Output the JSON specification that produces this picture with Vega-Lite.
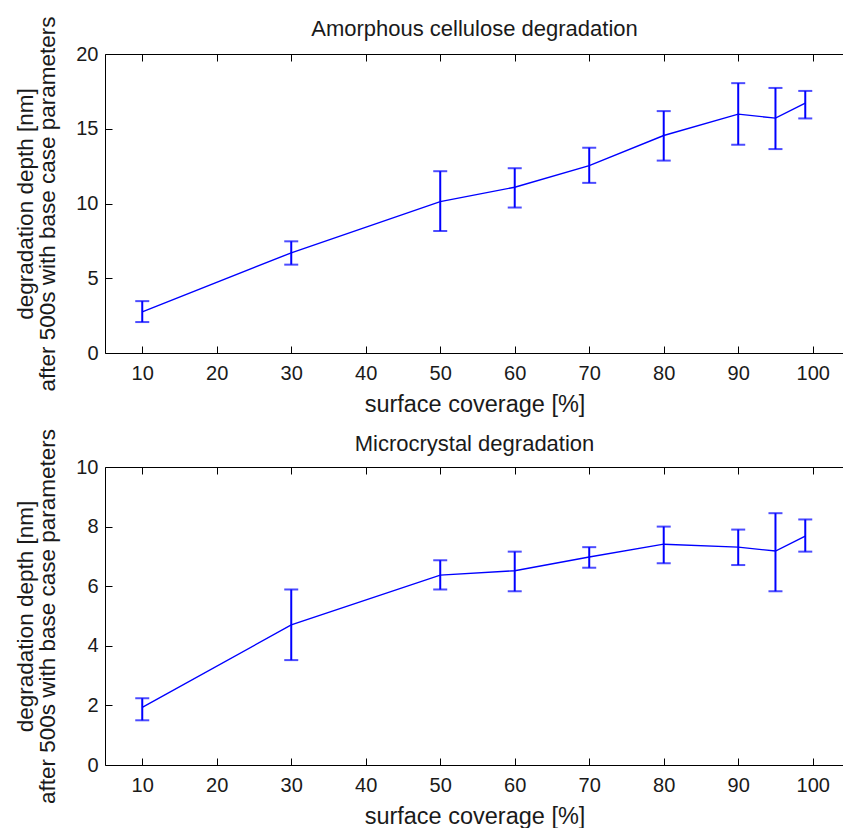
{
  "$schema": "https://vega.github.io/schema/vega-lite/v6.json",
  "background": "white",
  "padding": {"left": 14, "top": 15, "right": 0, "bottom": 0},
  "spacing": 12,
  "config": {
    "font": "Liberation Sans",
    "view": {"stroke": null},
    "axis": {
      "grid": false,
      "domainColor": "#000000",
      "domainWidth": 1,
      "tickColor": "#000000",
      "tickWidth": 1,
      "tickSize": -7,
      "labelFont": "Liberation Sans",
      "labelFontSize": 20,
      "labelColor": "#1a1a1a",
      "titleFont": "Liberation Sans",
      "titleFontWeight": "normal",
      "titleColor": "#1a1a1a"
    },
    "title": {"font": "Liberation Sans", "fontSize": 22, "fontWeight": "normal", "color": "#1a1a1a", "offset": -25}
  },
  "datasets": {
    "amorphous": [
      {"coverage": 10, "depth": 2.75, "lo": 2.07, "hi": 3.47},
      {"coverage": 30, "depth": 6.7, "lo": 5.91, "hi": 7.47},
      {"coverage": 50, "depth": 10.13, "lo": 8.16, "hi": 12.16},
      {"coverage": 60, "depth": 11.09, "lo": 9.73, "hi": 12.36},
      {"coverage": 70, "depth": 12.53, "lo": 11.38, "hi": 13.73},
      {"coverage": 80, "depth": 14.55, "lo": 12.87, "hi": 16.18},
      {"coverage": 90, "depth": 15.98, "lo": 13.93, "hi": 18.05},
      {"coverage": 95, "depth": 15.71, "lo": 13.64, "hi": 17.73},
      {"coverage": 99, "depth": 16.71, "lo": 15.69, "hi": 17.53}
    ],
    "microcrystal": [
      {"coverage": 10, "depth": 1.93, "lo": 1.5, "hi": 2.24},
      {"coverage": 30, "depth": 4.7, "lo": 3.52, "hi": 5.89},
      {"coverage": 50, "depth": 6.37, "lo": 5.89, "hi": 6.87},
      {"coverage": 60, "depth": 6.52, "lo": 5.83, "hi": 7.16},
      {"coverage": 70, "depth": 6.98, "lo": 6.62, "hi": 7.31},
      {"coverage": 80, "depth": 7.41, "lo": 6.77, "hi": 8.0},
      {"coverage": 90, "depth": 7.31, "lo": 6.71, "hi": 7.9},
      {"coverage": 95, "depth": 7.18, "lo": 5.83, "hi": 8.45},
      {"coverage": 99, "depth": 7.68, "lo": 7.16, "hi": 8.24}
    ]
  },
  "vconcat": [
    {
      "title": "Amorphous cellulose degradation",
      "width": 739,
      "height": 299,
      "data": {"name": "amorphous"},
      "resolve": {"axis": {"x": "independent"}},
      "layer": [
        {
          "mark": {"type": "line", "color": "#0000ff", "strokeWidth": 1.4},
          "encoding": {
            "x": {"field": "coverage", "type": "quantitative", "scale": {"domain": [5, 104.2], "nice": false, "zero": false},
                  "axis": {"values": [10, 20, 30, 40, 50, 60, 70, 80, 90, 100], "title": "surface coverage [%]", "titleFontSize": 23.5, "labelPadding": 17, "titlePadding": 9}},
            "y": {"field": "depth", "type": "quantitative", "scale": {"domain": [0, 20], "nice": false},
                  "axis": {"values": [0, 5, 10, 15, 20], "title": ["degradation depth [nm]", "after 500s with base case parameters"], "titleFontSize": 22.5, "titleLineHeight": 22, "labelPadding": 14, "titlePadding": 16}}
          }
        },
        {
          "mark": {"type": "rule", "color": "#0000ff", "strokeWidth": 2},
          "encoding": {
            "x": {"field": "coverage", "type": "quantitative", "axis": null},
            "y": {"field": "lo", "type": "quantitative"},
            "y2": {"field": "hi"}
          }
        },
        {
          "mark": {"type": "tick", "color": "#0000ff", "orient": "horizontal", "size": 14, "thickness": 2},
          "encoding": {
            "x": {"field": "coverage", "type": "quantitative", "axis": null},
            "y": {"field": "lo", "type": "quantitative"}
          }
        },
        {
          "mark": {"type": "tick", "color": "#0000ff", "orient": "horizontal", "size": 14, "thickness": 2},
          "encoding": {
            "x": {"field": "coverage", "type": "quantitative", "axis": null},
            "y": {"field": "hi", "type": "quantitative"}
          }
        },
        {
          "mark": {"type": "point", "opacity": 0},
          "encoding": {
            "x": {"field": "coverage", "type": "quantitative",
                  "axis": {"orient": "top", "values": [10, 20, 30, 40, 50, 60, 70, 80, 90, 100], "labels": false, "title": null, "minExtent": 0, "maxExtent": 0}},
            "y": {"field": "depth", "type": "quantitative"}
          }
        }
      ]
    },
    {
      "title": {"text": "Microcrystal degradation", "offset": -28},
      "width": 739,
      "height": 298,
      "data": {"name": "microcrystal"},
      "resolve": {"axis": {"x": "independent"}},
      "layer": [
        {
          "mark": {"type": "line", "color": "#0000ff", "strokeWidth": 1.4},
          "encoding": {
            "x": {"field": "coverage", "type": "quantitative", "scale": {"domain": [5, 104.2], "nice": false, "zero": false},
                  "axis": {"values": [10, 20, 30, 40, 50, 60, 70, 80, 90, 100], "title": "surface coverage [%]", "titleFontSize": 23.5, "labelPadding": 17, "titlePadding": 9}},
            "y": {"field": "depth", "type": "quantitative", "scale": {"domain": [0, 10], "nice": false},
                  "axis": {"values": [0, 2, 4, 6, 8, 10], "title": ["degradation depth [nm]", "after 500s with base case parameters"], "titleFontSize": 22.5, "titleLineHeight": 22, "labelPadding": 14, "titlePadding": 16}}
          }
        },
        {
          "mark": {"type": "rule", "color": "#0000ff", "strokeWidth": 2},
          "encoding": {
            "x": {"field": "coverage", "type": "quantitative", "axis": null},
            "y": {"field": "lo", "type": "quantitative"},
            "y2": {"field": "hi"}
          }
        },
        {
          "mark": {"type": "tick", "color": "#0000ff", "orient": "horizontal", "size": 14, "thickness": 2},
          "encoding": {
            "x": {"field": "coverage", "type": "quantitative", "axis": null},
            "y": {"field": "lo", "type": "quantitative"}
          }
        },
        {
          "mark": {"type": "tick", "color": "#0000ff", "orient": "horizontal", "size": 14, "thickness": 2},
          "encoding": {
            "x": {"field": "coverage", "type": "quantitative", "axis": null},
            "y": {"field": "hi", "type": "quantitative"}
          }
        },
        {
          "mark": {"type": "point", "opacity": 0},
          "encoding": {
            "x": {"field": "coverage", "type": "quantitative",
                  "axis": {"orient": "top", "values": [10, 20, 30, 40, 50, 60, 70, 80, 90, 100], "labels": false, "title": null, "minExtent": 0, "maxExtent": 0}},
            "y": {"field": "depth", "type": "quantitative"}
          }
        }
      ]
    }
  ]
}
